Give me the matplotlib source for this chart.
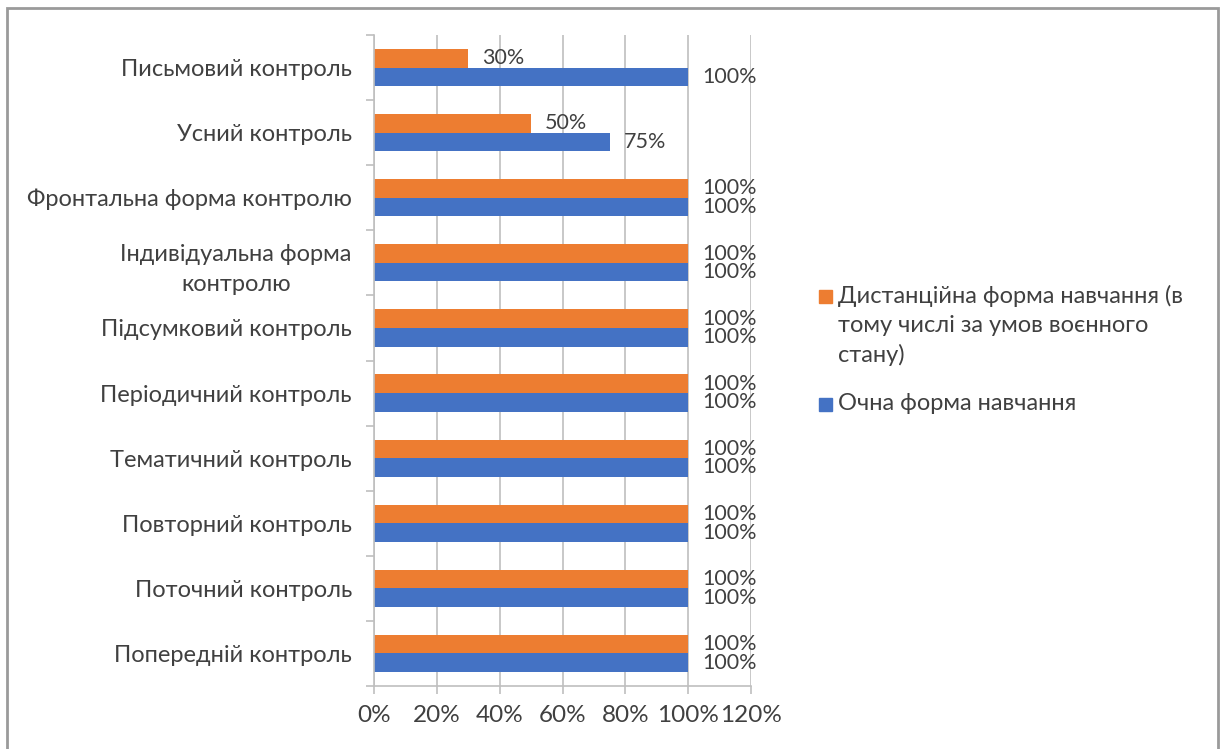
import numpy as np
import matplotlib.pyplot as plt
from matplotlib.patches import Rectangle

plt.rcParams["font.family"] = ["Lato", "DejaVu Sans"]

# categories listed top to bottom as in the chart
categories = [
    "Письмовий контроль",
    "Усний контроль",
    "Фронтальна форма контролю",
    "Індивідуальна форма\nконтролю",
    "Підсумковий контроль",
    "Періодичний контроль",
    "Тематичний контроль",
    "Повторний контроль",
    "Поточний контроль",
    "Попередній контроль",
]
distance = [30, 50, 100, 100, 100, 100, 100, 100, 100, 100]
fulltime = [100, 75, 100, 100, 100, 100, 100, 100, 100, 100]
series_names = [
    "Дистанційна форма навчання (в\nтому числі за умов воєнного\nстану)",
    "Очна форма навчання",
]
xticks = [0, 20, 40, 60, 80, 100, 120]

ORANGE = "#ED7D31"
BLUE = "#4472C4"
GRID = "#BFBFBF"
TEXT = "#404040"
W, H = 1221, 749

fig = plt.figure(figsize=(12.21, 7.49), dpi=100)
ax = fig.add_axes([374 / W, 1 - 686 / H, 377 / W, 651 / H])

n = len(categories)
y = np.arange(n)  # 0 at top after inverting
h = 0.285
b1 = ax.barh(y - h / 2, distance, height=h, color=ORANGE, label=series_names[0])
b2 = ax.barh(y + h / 2, fulltime, height=h, color=BLUE, label=series_names[1])
for bars in (b1, b2):
    ax.bar_label(bars, labels=[f"{v:.0f}%" for v in bars.datavalues],
                 padding=10, fontsize=15.5, color=TEXT)

ax.set_ylim(n - 0.5, -0.5)
ax.set_xlim(0, 120)
ax.set_xticks(xticks)
ax.set_xticklabels([f"{v}%" for v in xticks], fontsize=17.5, color=TEXT)
ax.set_yticks(y)
ax.set_yticklabels(categories, fontsize=17, color=TEXT, linespacing=1.55)
for lbl in ax.get_yticklabels():
    lbl.set_multialignment("center")
ax.set_yticks(np.arange(n + 1) - 0.5, minor=True)
ax.tick_params(axis="y", which="major", length=0, pad=16)
ax.tick_params(axis="y", which="minor", length=6, color=GRID, width=1.2)
ax.tick_params(axis="x", length=6, color=GRID, width=1.2, pad=8)

ax.grid(axis="x", color=GRID, linewidth=1.2)
ax.set_axisbelow(True)
for s in ("top", "right"):
    ax.spines[s].set_visible(False)
for s in ("left", "bottom"):
    ax.spines[s].set_color(GRID)
    ax.spines[s].set_linewidth(1.2)

# legend drawn by hand so the marker sits on the first text line
legend_rows = [(series_names[0], ORANGE, 297), (series_names[1], BLUE, 405)]
for label, color, yc in legend_rows:
    fig.patches.append(Rectangle((819 / W, 1 - (yc + 6) / H), 13 / W, 13 / H,
                                 transform=fig.transFigure, color=color))
    fig.text(838 / W, 1 - (yc - 12) / H, label, fontsize=17, color=TEXT,
             va="top", ha="left", linespacing=1.45)

# outer frame
fig.patches.append(Rectangle((7 / W, -0.01), 1211 / W, 1 - 8 / H + 0.01,
                             transform=fig.transFigure, fill=False,
                             edgecolor="#9A9A9A", linewidth=2))

fig.savefig("out.png", dpi=100)
